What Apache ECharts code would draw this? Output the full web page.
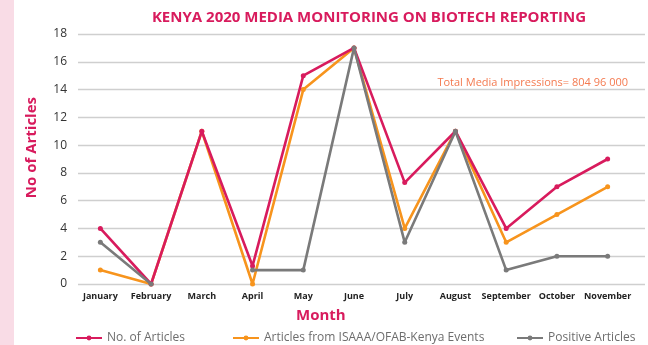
<!DOCTYPE html>
<html>
<head>
<meta charset="utf-8">
<script src="https://cdn.jsdelivr.net/npm/echarts@6/dist/echarts.min.js"></script>
<style>
  html, body { margin: 0; padding: 0; background: #ffffff; }
  #chart { width: 648px; height: 345px; position: relative; }
  #strip { position: absolute; left: 0; top: 0; width: 14px; height: 345px; background: #f9dce6; }
</style>
</head>
<body>
<div id="chart"></div>
<div id="strip"></div>
<script>
// Monthly article counts, 2020
const months = ['January', 'February', 'March', 'April', 'May', 'June', 'July', 'August', 'September', 'October', 'November'];
const totalArticles = [4, 0, 11, 1.3, 15, 17, 7.3, 11, 4, 7, 9];
const eventArticles = [1, 0, 11, 0, 14, 17, 4, 11, 3, 5, 7];
const positiveArticles = [3, 0, null, 1, 1, 17, 3, 11, 1, 2, 2];
const seriesNames = ['No. of Articles', 'Articles from ISAAA/OFAB-Kenya Events', 'Positive Articles'];
const yTicks = { min: 0, max: 18, step: 2 };

const crimson = '#d81b5d';
const orange = '#f7941d';
const grey = '#7a7a7a';
const font = '"Open Sans", "Noto Sans", sans-serif';

const chart = echarts.init(document.getElementById('chart'), null, { renderer: 'canvas' });

function lineSeries(name, data, color, z) {
  return {
    name: name,
    type: 'line',
    xAxisIndex: 1,
    yAxisIndex: 1,
    data: data,
    z: z,
    symbol: 'circle',
    symbolSize: 5,
    showSymbol: true,
    connectNulls: false,
    lineStyle: { color: color, width: 2.6 },
    itemStyle: { color: color },
    emphasis: { disabled: true }
  };
}

function legendFor(name, left) {
  return {
    top: 327, left: left,
    itemWidth: 26, itemHeight: 6,
    textStyle: { color: '#6d6d6d', fontFamily: font, fontSize: 12 },
    data: [name]
  };
}

chart.setOption({
  animation: false,
  backgroundColor: '#ffffff',
  title: [
    {
      text: 'KENYA 2020 MEDIA MONITORING ON BIOTECH REPORTING',
      left: 364, top: 5, textAlign: 'center',
      textStyle: { color: crimson, fontFamily: font, fontWeight: 'bold', fontSize: 15 }
    },
    {
      text: 'Total Media Impressions= 804 96 000',
      right: 15, top: 72,
      textStyle: { color: '#f47a50', fontFamily: font, fontWeight: 'normal', fontSize: 11 }
    }
  ],
  grid: [
    // background grid carrying the value gridlines
    { left: 78, right: 3, top: 34, bottom: 61 },
    // plotting grid for the monthly categories
    { left: 75, right: 15, top: 34, bottom: 61 }
  ],
  xAxis: [
    { gridIndex: 0, type: 'value', show: false, min: 0, max: 1 },
    {
      gridIndex: 1, type: 'category', data: months, boundaryGap: true,
      axisLine: { show: false }, axisTick: { show: false },
      axisLabel: { color: '#222', fontFamily: font, fontWeight: 'bold', fontSize: 9, margin: 8, interval: 0 }
    }
  ],
  yAxis: [
    {
      gridIndex: 0, type: 'value', min: yTicks.min, max: yTicks.max, interval: yTicks.step,
      axisLine: { show: false }, axisTick: { show: false },
      axisLabel: { color: '#333', fontFamily: font, fontSize: 12, margin: 11 },
      splitLine: { show: true, lineStyle: { color: '#cfcfcf', width: 1.3 } }
    },
    {
      gridIndex: 1, type: 'value', min: yTicks.min, max: yTicks.max, interval: yTicks.step,
      show: false, splitLine: { show: false }
    }
  ],
  legend: [
    legendFor(seriesNames[0], 70),
    legendFor(seriesNames[1], 227),
    legendFor(seriesNames[2], 511)
  ],
  graphic: [
    {
      type: 'text', left: 24, top: 97, rotation: Math.PI / 2,
      style: { text: 'No of Articles', fill: crimson, font: 'bold 15px ' + font }
    },
    {
      type: 'text', left: 296, top: 308,
      style: { text: 'Month', fill: crimson, font: 'bold 15px ' + font }
    }
  ],
  series: [
    lineSeries(seriesNames[1], eventArticles, orange, 2),
    lineSeries(seriesNames[0], totalArticles, crimson, 3),
    lineSeries(seriesNames[2], positiveArticles, grey, 4)
  ]
});
</script>
</body>
</html>
